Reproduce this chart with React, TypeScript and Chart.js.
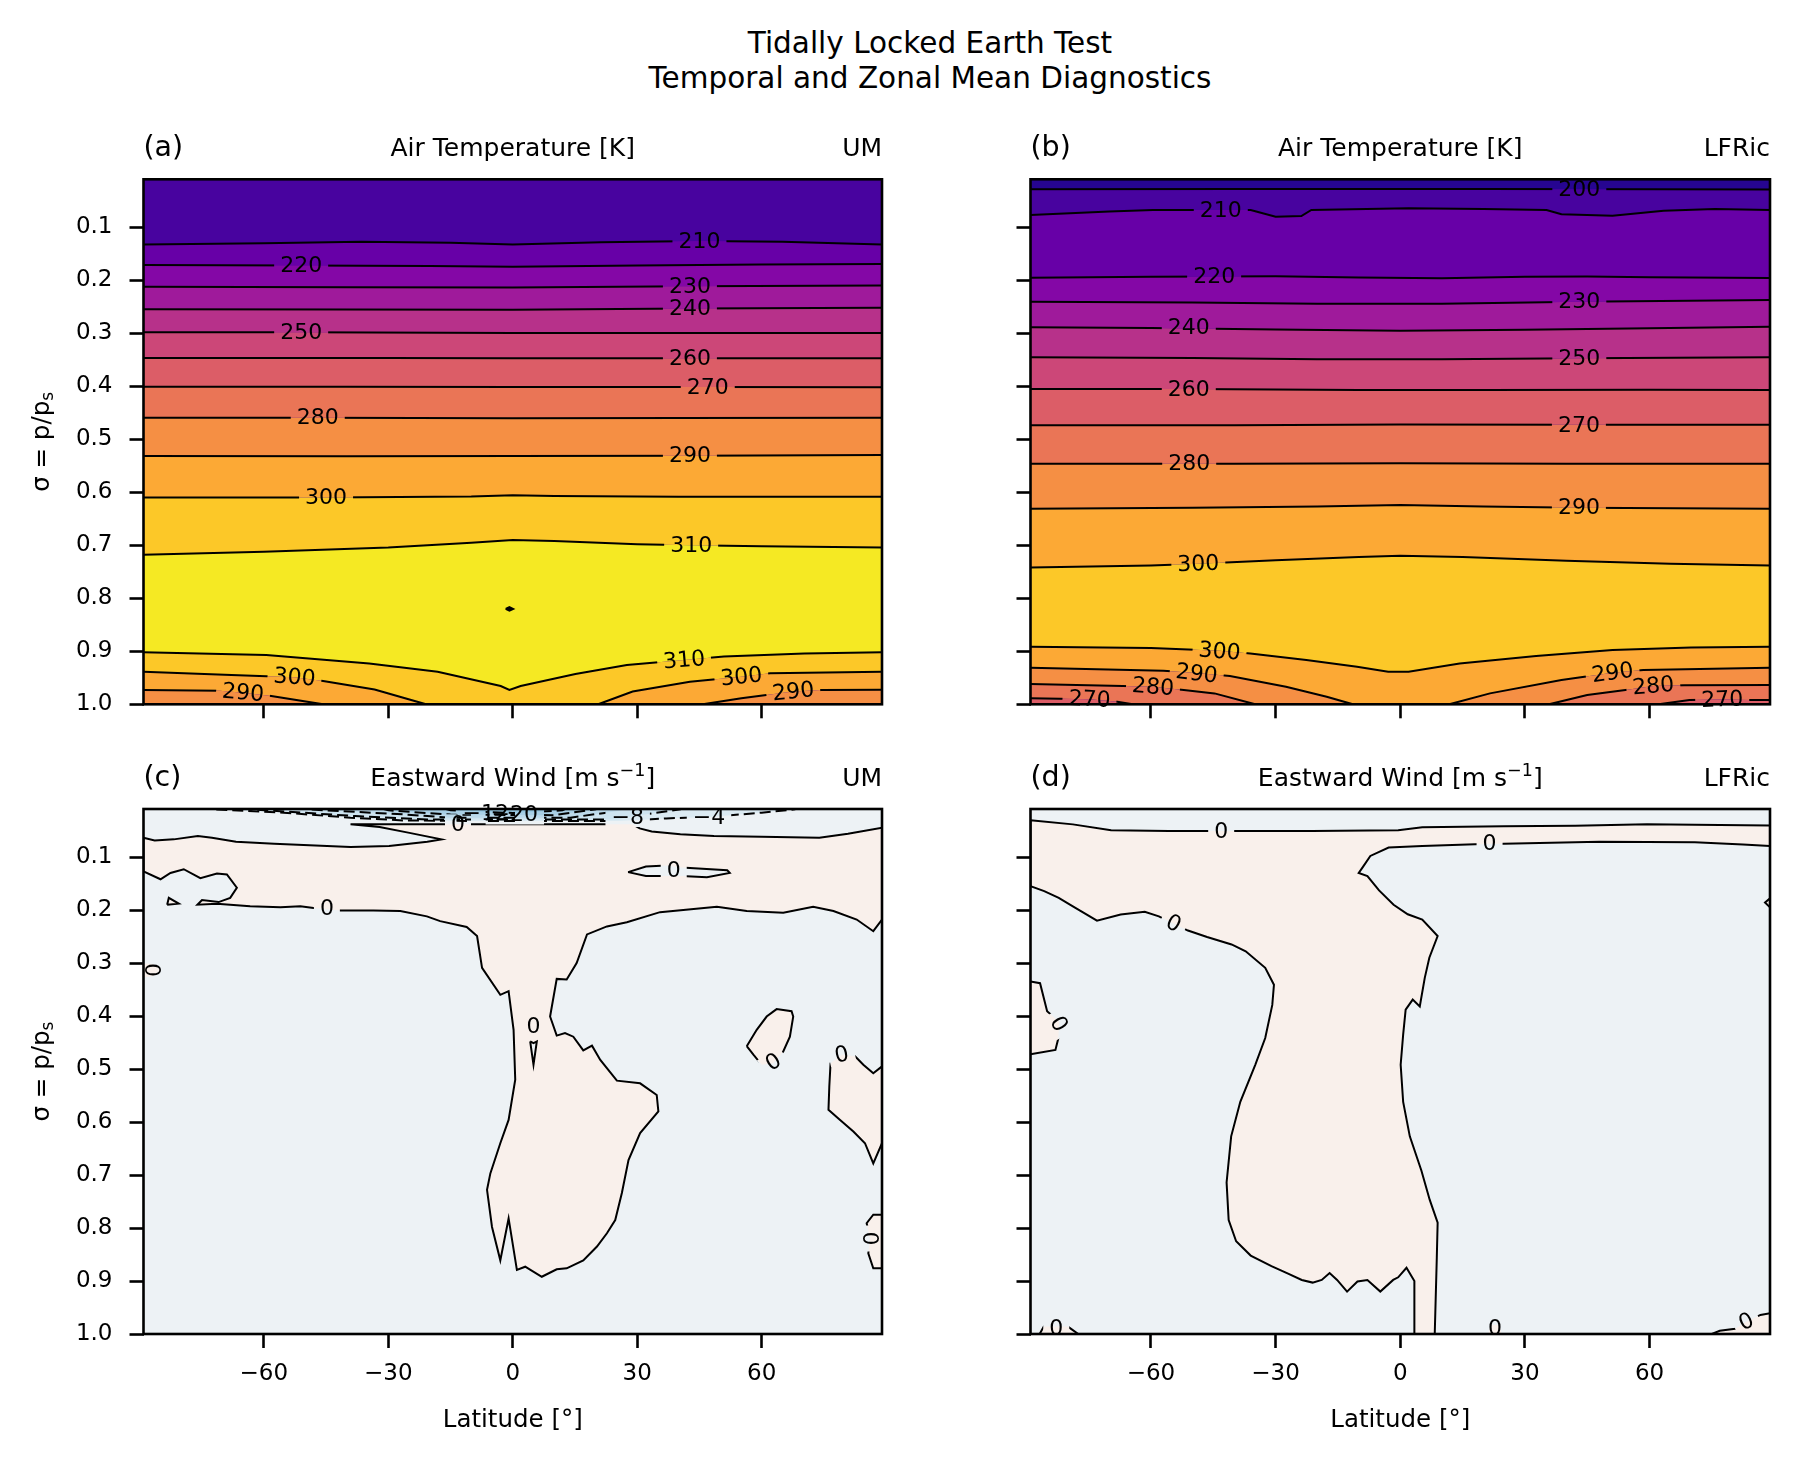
import React, { useEffect, useRef } from 'react';
import { Chart, registerables } from 'chart.js';

Chart.register(...registerables);

type P = [number, number];
type Lab = [string, number, number, number]; // text, latitude, sigma, rotation (deg)

const FAM = '"DejaVu Sans", "Liberation Sans", sans-serif';

// ---------- axes ----------
const LAT_MIN = -89;
const LAT_MAX = 89;
const SIGMA_TOP = 0.0094;
const SIGMA_BOTTOM = 1.0;
const LAT_TICKS = [-60, -30, 0, 30, 60];
const SIGMA_TICKS = [0.1, 0.2, 0.3, 0.4, 0.5, 0.6, 0.7, 0.8, 0.9, 1.0];

// ---------- colour levels ----------
const TEMP_LEVELS = [190, 200, 210, 220, 230, 240, 250, 260, 270, 280, 290, 300, 310];
const TEMP_COLORS = ['#260591', '#48039f', '#6700a7', '#8407a6', '#9f1a9b', '#b7318a', '#cc4778', '#dc5d67', '#ea7556', '#f58f44', '#fca935', '#fcc828', '#f5e923'];
const WIND_LEVELS = [-24, -20, -16, -12, -8, -4, 0];
const WIND_COLORS = ['#96c6e0', '#a9cfe5', '#bcd9ea', '#cde3ef', '#dbeaf2', '#edf2f5', '#f9f0eb'];

// ---------- (a) UM air temperature contours, top to bottom ----------
const UM_T210: P[] = [[-89, 0.1325], [-60, 0.130], [-36.5, 0.127], [-15, 0.129], [0, 0.1325], [21.3, 0.128], [45, 0.126], [65, 0.127], [89, 0.1325]];
const UM_T220: P[] = [[-89, 0.171], [-51, 0.172], [-20, 0.173], [0, 0.1745], [30, 0.172], [60, 0.170], [89, 0.169]];
const UM_T230: P[] = [[-89, 0.212], [-40, 0.213], [0, 0.2135], [42.7, 0.211], [89, 0.21]];
const UM_T240: P[] = [[-89, 0.2547], [-40, 0.255], [0, 0.2555], [42.7, 0.253], [89, 0.252]];
const UM_T250: P[] = [[-89, 0.298], [-51, 0.298], [0, 0.2995], [40, 0.2996], [89, 0.2996]];
const UM_T260: P[] = [[-89, 0.3465], [-30, 0.3465], [0, 0.347], [42.7, 0.347], [89, 0.347]];
const UM_T270: P[] = [[-89, 0.4008], [-40, 0.401], [0, 0.4015], [47, 0.4015], [89, 0.402]];
const UM_T280: P[] = [[-89, 0.4593], [-47, 0.4593], [0, 0.4605], [40, 0.46], [89, 0.4595]];
const UM_T290: P[] = [[-89, 0.5317], [-40, 0.532], [0, 0.5317], [42.7, 0.531], [89, 0.5295]];
const UM_T300: P[] = [[-89, 0.6098], [-45, 0.6098], [-10, 0.608], [0, 0.6055], [10, 0.607], [40, 0.6085], [89, 0.6085]];
const UM_T310U: P[] = [[-89, 0.718], [-60, 0.712], [-30, 0.704], [-10, 0.695], [0, 0.69], [10, 0.692], [30, 0.698], [43, 0.7], [60, 0.702], [89, 0.704]];
const UM_T310L: P[] = [[-89, 0.902], [-59.4, 0.907], [-34.6, 0.923], [-18.1, 0.9386], [-2.9, 0.9655], [-0.8, 0.973], [1.9, 0.9655], [15.1, 0.943], [27.5, 0.926], [41.3, 0.9165], [50.9, 0.91], [70.3, 0.904], [89, 0.902]];
const UM_T300L: P[] = [[-89, 0.9386], [-67.8, 0.9448], [-52.6, 0.949], [-45.7, 0.956], [-33.3, 0.972], [-20.9, 1.0], [20.6, 1.0], [28.9, 0.976], [42.7, 0.9575], [55.1, 0.948], [62, 0.9416], [89, 0.9386]];
const UM_T290L: P[] = [[-89, 0.973], [-70.6, 0.9745], [-65, 0.978], [-58.2, 0.9845], [-45.7, 1.0], [45.8, 1.0], [55.1, 0.9888], [67.6, 0.976], [74.5, 0.973], [89, 0.9725]];
const UM_T_DOT: P[] = [[-1.7, 0.82], [-0.8, 0.8165], [0.1, 0.82], [-0.8, 0.8235], [-1.7, 0.82]];
const UM_T_LINES = [UM_T210, UM_T220, UM_T230, UM_T240, UM_T250, UM_T260, UM_T270, UM_T280, UM_T290, UM_T300, UM_T310U, UM_T310L, UM_T300L, UM_T290L];
const UM_T_BELOW = [210, 220, 230, 240, 250, 260, 270, 280, 290, 300, 310, 300, 290, 280];
const UM_T_TOP = 200;
const UM_T_LABELS: Lab[] = [
  ['210', 45, 0.127, 0], ['220', -51, 0.172, 0], ['230', 42.7, 0.211, 0], ['240', 42.7, 0.253, 0],
  ['250', -51, 0.298, 0], ['260', 42.7, 0.347, 0], ['270', 47, 0.4015, 0], ['280', -47, 0.4593, 0],
  ['290', 42.7, 0.531, 0], ['300', -45, 0.6098, 0], ['310', 43, 0.7, 0],
  ['310', 41.3, 0.9165, -5], ['300', -52.6, 0.949, 5], ['300', 55.1, 0.948, -6], ['290', -65, 0.978, 5], ['290', 67.6, 0.976, -6],
];

// ---------- (b) LFRic air temperature contours ----------
const LF_T200: P[] = [[-89, 0.028], [-40, 0.0275], [20, 0.0277], [60, 0.028], [89, 0.0285]];
const LF_T210: P[] = [[-89, 0.0768], [-70, 0.07], [-59.5, 0.0673], [-43.2, 0.0673], [-36, 0.0673], [-30, 0.08], [-23.8, 0.0787], [-21.4, 0.0673], [2, 0.0642], [20, 0.0655], [35.2, 0.0673], [38.8, 0.0755], [51.1, 0.078], [63.4, 0.0686], [75.7, 0.0654], [89, 0.0673]];
const LF_T220: P[] = [[-89, 0.195], [-60, 0.1935], [-44.8, 0.193], [-30, 0.1925], [-10, 0.1945], [10, 0.196], [30, 0.1935], [45, 0.193], [60, 0.194], [89, 0.1955]];
const LF_T230: P[] = [[-89, 0.2404], [-50, 0.242], [-20, 0.2443], [10, 0.2443], [43.1, 0.2405], [89, 0.2372]];
const LF_T240: P[] = [[-89, 0.2887], [-60, 0.29], [-30, 0.293], [0, 0.295], [30, 0.2935], [60, 0.2905], [89, 0.2875]];
const LF_T250: P[] = [[-89, 0.3453], [-50, 0.3465], [-20, 0.349], [10, 0.349], [43.1, 0.347], [89, 0.3453]];
const LF_T260: P[] = [[-89, 0.405], [-50.9, 0.405], [-10, 0.4068], [20, 0.407], [60, 0.4065], [89, 0.407]];
const LF_T270: P[] = [[-89, 0.4735], [-40, 0.4735], [0, 0.472], [43, 0.4727], [89, 0.4727]];
const LF_T280: P[] = [[-89, 0.5463], [-40, 0.546], [0, 0.545], [40, 0.546], [89, 0.5463]];
const LF_T290: P[] = [[-89, 0.6308], [-50, 0.629], [-20, 0.627], [0, 0.624], [20, 0.627], [43, 0.629], [89, 0.6308]];
const LF_T300U: P[] = [[-89, 0.742], [-60, 0.738], [-48.6, 0.735], [-30, 0.728], [-10, 0.722], [0, 0.7195], [15, 0.722], [40, 0.729], [65, 0.735], [89, 0.738]];
const LF_T300L: P[] = [[-89, 0.8914], [-60, 0.894], [-43.5, 0.899], [-36.1, 0.904], [-22.6, 0.9165], [-10.4, 0.929], [-2.9, 0.9386], [2, 0.9386], [14.3, 0.923], [32.7, 0.909], [51.1, 0.8977], [70, 0.893], [89, 0.8914]];
const LF_T290L: P[] = [[-89, 0.931], [-57, 0.9367], [-49, 0.941], [-41, 0.9467], [-27.5, 0.9668], [-17.7, 0.9857], [-11.4, 1.0], [11.8, 1.0], [21.6, 0.9794], [38.8, 0.954], [51.1, 0.9405], [58.5, 0.9354], [89, 0.931]];
const LF_T280L: P[] = [[-89, 0.9618], [-66.8, 0.9655], [-59.5, 0.967], [-52.1, 0.973], [-44.7, 0.9794], [-34.9, 1.0], [35.8, 1.0], [45, 0.9826], [54.2, 0.973], [60.9, 0.9655], [68.3, 0.964], [89, 0.9637]];
const LF_T270L: P[] = [[-89, 0.9888], [-74.8, 0.9905], [-68.1, 0.9952], [-64.4, 1.0], [62.2, 1.0], [69.6, 0.992], [77.5, 0.991], [84.3, 0.992], [89, 0.992]];
const LF_T_LINES = [LF_T200, LF_T210, LF_T220, LF_T230, LF_T240, LF_T250, LF_T260, LF_T270, LF_T280, LF_T290, LF_T300U, LF_T300L, LF_T290L, LF_T280L, LF_T270L];
const LF_T_BELOW = [200, 210, 220, 230, 240, 250, 260, 270, 280, 290, 300, 290, 280, 270, 260];
const LF_T_TOP = 190;
const LF_T_LABELS: Lab[] = [
  ['200', 43.1, 0.0277, 0], ['210', -43.2, 0.0673, 0], ['220', -44.8, 0.193, 0], ['230', 43.1, 0.2405, 0],
  ['240', -50.9, 0.2895, 0], ['250', 43.1, 0.347, 0], ['260', -50.9, 0.405, 0], ['270', 43, 0.4727, 0],
  ['280', -50.8, 0.546, 0], ['290', 43, 0.629, 0], ['300', -48.6, 0.735, -2],
  ['300', -43.5, 0.9, 5], ['290', -49, 0.942, 7], ['280', -59.5, 0.967, 5], ['270', -74.8, 0.9905, 3],
  ['290', 51.1, 0.9405, -8], ['280', 60.9, 0.9655, -5], ['270', 77.5, 0.991, -2],
];

// ---------- (c) UM eastward wind: closed contour shapes ----------
const UM_W_POS: P[] = [
  [-89, 0.0635], [-86.3, 0.0686], [-81.7, 0.0667], [-75.9, 0.0605], [-72.5, 0.0635], [-66.7, 0.071], [-57.5, 0.0749], [-39.1, 0.0813], [-29.8, 0.0794], [-20.6, 0.071], [-17.2, 0.0667],
  [-25.2, 0.054], [-32.1, 0.0435], [-39.1, 0.0384], [28.9, 0.0384], [30.6, 0.046], [33.5, 0.052], [40.4, 0.057], [48.5, 0.0605], [60.0, 0.0616], [73.9, 0.0635], [80.8, 0.056], [89, 0.0446],
  [89, 0.218], [86.9, 0.24], [82.9, 0.218], [77.3, 0.202], [72.4, 0.194], [65.2, 0.205], [56.4, 0.202], [49.2, 0.194], [35.5, 0.204], [27.5, 0.223], [22.7, 0.231], [17.9, 0.246],
  [15.4, 0.3], [13.0, 0.331], [10.6, 0.33], [9.0, 0.401], [10.6, 0.437], [12.6, 0.432], [14.6, 0.439], [17.0, 0.465], [19.1, 0.456], [21.1, 0.483], [25.1, 0.522], [30.7, 0.527],
  [34.7, 0.549], [35.1, 0.58], [30.7, 0.621], [27.9, 0.672], [26.3, 0.734], [24.7, 0.785], [22.7, 0.81], [20.3, 0.835], [17.0, 0.861], [13.0, 0.876], [10.6, 0.878], [7.0, 0.892],
  [3.0, 0.873], [1.0, 0.879], [-1.0, 0.782], [-3.0, 0.861], [-5.0, 0.798], [-6.2, 0.728], [-5.4, 0.697], [-3.0, 0.64], [-1.0, 0.596], [0.6, 0.52], [0.2, 0.426], [-1.0, 0.353],
  [-3.0, 0.36], [-7.4, 0.309], [-8.6, 0.249], [-11.1, 0.232], [-17.5, 0.221], [-20.7, 0.212], [-27.1, 0.202], [-33.6, 0.201], [-41.6, 0.201], [-48.0, 0.196], [-51.2, 0.193],
  [-56.0, 0.195], [-63.3, 0.193], [-71.3, 0.188], [-76.0, 0.19], [-74.9, 0.181], [-70.9, 0.185], [-68.1, 0.177], [-66.5, 0.158], [-68.9, 0.133], [-71.3, 0.131], [-75.3, 0.14],
  [-79.3, 0.123], [-82.5, 0.13], [-84.9, 0.142], [-89, 0.127], [-89, 0.0635],
];
const UM_W_NEG_BLOB: P[] = [[27.8, 0.1285], [32.1, 0.118], [37.0, 0.116], [40.7, 0.12], [51.7, 0.125], [52.3, 0.13], [46.8, 0.138], [40.7, 0.136], [32.1, 0.136], [27.8, 0.1285]];
const UM_W_NEG_V: P[] = [[4.2, 0.448], [5.0, 0.492], [5.8, 0.448], [5.0, 0.451], [4.2, 0.448]];
const UM_W_POS_TRI: P[] = [[-83.3, 0.19], [-82.9, 0.177], [-80.5, 0.188], [-83.3, 0.19]];
const UM_W_POS_EDGE_L: P[] = [[-89, 0.301], [-86.6, 0.302], [-85.0, 0.313], [-86.6, 0.325], [-89, 0.327]];
const UM_W_POS_BLOB: P[] = [[56.4, 0.457], [58.8, 0.426], [61.2, 0.401], [63.6, 0.387], [67.2, 0.391], [67.6, 0.401], [66.8, 0.439], [65.2, 0.467], [62.8, 0.489], [60.0, 0.492], [58.0, 0.473], [56.4, 0.457]];
const UM_W_POS_EDGE_R: P[] = [[89, 0.495], [86.9, 0.508], [84.5, 0.492], [82.5, 0.476], [79.3, 0.473], [76.6, 0.489], [76.3, 0.533], [76.1, 0.577], [78.9, 0.596], [82.1, 0.618], [84.9, 0.64], [86.9, 0.678], [89, 0.64]];
const UM_W_POS_EDGE_R2: P[] = [[89, 0.775], [86.9, 0.775], [85.3, 0.791], [86.1, 0.82], [85.7, 0.848], [86.9, 0.876], [89, 0.876]];
const UM_W_N4: P[] = [[-75, 0], [-72.5, 0.0101], [-55.2, 0.0163], [-39.1, 0.0258], [-26.5, 0.0309], [-9.2, 0.0321], [25.4, 0.0321], [37.0, 0.0271], [47.3, 0.0246], [60.0, 0.0163], [68.0, 0.0101], [70, 0]];
const UM_W_N8: P[] = [[-65, 0], [-63.3, 0.0101], [-38.0, 0.0227], [-20.7, 0.029], [25.4, 0.029], [27.7, 0.0246], [34.6, 0.0163], [40.4, 0.0101], [42, 0]];
const UM_W_N12: P[] = [[-52, 0], [-49.5, 0.0101], [-26.5, 0.0195], [-14.9, 0.0258], [13.9, 0.0258], [25.4, 0.0132], [27.7, 0.0082], [28, 0]];
const UM_W_N16: P[] = [[-35, 0], [-30, 0.012], [-15, 0.02], [10, 0.021], [20, 0.01], [22, 0]];
const UM_W_N20: P[] = [[-20, 0], [-15, 0.012], [0, 0.017], [12, 0.012], [15, 0]];
const UM_W_SHAPES = [UM_W_POS, UM_W_NEG_BLOB, UM_W_NEG_V, UM_W_POS_TRI, UM_W_POS_EDGE_L, UM_W_POS_BLOB, UM_W_POS_EDGE_R, UM_W_POS_EDGE_R2, UM_W_N4, UM_W_N8, UM_W_N12, UM_W_N16, UM_W_N20];
const UM_W_INSIDE = [0, -4, -4, 0, 0, 0, 0, 0, -8, -12, -16, -20, -24];
const UM_W_CONTOUR = [0, 0, 0, 0, 0, 0, 0, 0, -4, -8, -12, -16, -20];
const UM_W_LABELS: Lab[] = [
  ['0', -44.8, 0.197, 0], ['0', -13.2, 0.0384, 0], ['0', 38.8, 0.125, 0], ['0', 5.0, 0.42, 0],
  ['0', 62.8, 0.487, -32], ['0', 79.3, 0.473, -12], ['0', 86.1, 0.82, 90], ['0', -86.9, 0.313, 90],
  ['\u22124', 47.3, 0.0246, 0], ['\u22128', 27.7, 0.0246, 0], ['\u221212', -6.5, 0.017, 0], ['\u221220', 0.5, 0.02, 0],
];

// ---------- (d) LFRic eastward wind ----------
const LF_W_POS: P[] = [
  [-89, 0.0308], [-78.8, 0.0384], [-69.6, 0.0497], [-55.7, 0.051], [-39.6, 0.051], [-21.2, 0.051], [-0.5, 0.0497], [5.3, 0.044], [24.9, 0.042], [42.1, 0.041], [59.4, 0.0384], [70.9, 0.039], [89, 0.0403],
  [89, 0.0794], [82.5, 0.0762], [70.9, 0.072], [47.9, 0.071], [24.9, 0.075], [18.0, 0.076], [5.3, 0.079], [-2.8, 0.082], [-7.2, 0.098], [-9.1, 0.12], [-10.0, 0.13],
  [-7.9, 0.136], [-5.1, 0.163], [-1.6, 0.19], [1.8, 0.208], [5.3, 0.218], [9.0, 0.249], [7.0, 0.29], [5.9, 0.328], [4.7, 0.382], [3.0, 0.369], [1.3, 0.388], [0.7, 0.435], [0.1, 0.492],
  [0.7, 0.562], [2.3, 0.627], [5.1, 0.692], [7.1, 0.747], [9.0, 0.79], [8.8, 0.855], [8.3, 1.0],
  [3.4, 1.0], [3.4, 0.9], [1.5, 0.875], [-0.5, 0.893], [-1.7, 0.898], [-4.8, 0.92], [-7.9, 0.898], [-10.3, 0.901], [-12.8, 0.92], [-15.2, 0.898], [-17.0, 0.885], [-18.9, 0.898],
  [-21.1, 0.903], [-23.7, 0.898], [-27.0, 0.886], [-31.0, 0.872], [-36.0, 0.852], [-39.5, 0.825], [-41.3, 0.785], [-41.8, 0.714], [-40.7, 0.627], [-38.5, 0.562], [-34.9, 0.492],
  [-32.5, 0.4415], [-30.8, 0.379], [-30.4, 0.341], [-32.5, 0.309], [-37.2, 0.278], [-40.6, 0.265], [-46.5, 0.251], [-51.1, 0.2387], [-58.1, 0.212], [-61.5, 0.2034], [-67.3, 0.2085],
  [-73.0, 0.22], [-78.8, 0.193], [-82.2, 0.177], [-85.7, 0.1644], [-89, 0.155], [-89, 0.0308],
];
const LF_W_POS_EDGE_L: P[] = [[-89, 0.335], [-86.7, 0.338], [-85.0, 0.391], [-82.1, 0.411], [-82.3, 0.442], [-83.0, 0.464], [-89, 0.472]];
const LF_W_POS_CORNER: P[] = [[75, 1.0], [76.9, 0.994], [80.6, 0.99], [83.3, 0.977], [86.7, 0.964], [89, 0.961], [89, 1.0]];
const LF_W_POS_BL: P[] = [[-86.8, 1.0], [-85.8, 0.986], [-80, 0.986], [-77.5, 1.0]];
const LF_W_POS_BC: P[] = [[21.2, 1.0], [21.8, 0.983], [23.8, 0.983], [24.4, 1.0]];
const LF_W_POS_R: P[] = [[89, 0.178], [87.8, 0.186], [89, 0.195]];
const LF_W_SHAPES = [LF_W_POS, LF_W_POS_EDGE_L, LF_W_POS_CORNER, LF_W_POS_BL, LF_W_POS_BC, LF_W_POS_R];
const LF_W_INSIDE = [0, 0, 0, 0, 0, 0];
const LF_W_CONTOUR = [0, 0, 0, 0, 0, 0];
const LF_W_LABELS: Lab[] = [
  ['0', -43.1, 0.051, 0], ['0', 21.5, 0.075, 0], ['0', -54.6, 0.2255, 27], ['0', -82.2, 0.415, 60],
  ['0', 83.3, 0.977, -25], ['0', -82.8, 0.99, 0], ['0', 22.8, 0.99, 0],
];

// ---------- text ----------
type Seg = { t: string; sup?: boolean; sub?: boolean };
const TEMP_TITLE: Seg[] = [{ t: 'Air Temperature [K]' }];
const WIND_TITLE: Seg[] = [{ t: 'Eastward Wind [m s' }, { t: '\u22121', sup: true }, { t: ']' }];
const Y_LABEL: Seg[] = [{ t: '\u03c3 = p/p' }, { t: 's', sub: true }];
const X_LABEL: Seg[] = [{ t: 'Latitude [\u00b0]' }];

const tempColor = (lvl: number) => TEMP_COLORS[TEMP_LEVELS.indexOf(lvl)];
const windColor = (lvl: number) => WIND_COLORS[WIND_LEVELS.indexOf(lvl)];
const toXY = (pts: P[]) => pts.map(([x, y]) => ({ x, y }));

function bandDatasets(lines: P[][], below: number[]) {
  const n = lines.length;
  return lines.map((pts, i) => ({
    data: toXY(pts),
    backgroundColor: tempColor(below[i]),
    borderColor: '#000',
    borderWidth: 2,
    pointRadius: 0,
    tension: 0,
    fill: i < n - 1 ? '+1' : { value: SIGMA_BOTTOM },
  }));
}

function shapeDatasets(shapes: P[][], colors: string[], dashed: boolean[]) {
  return shapes.map((pts, i) => ({
    data: toXY(pts),
    backgroundColor: colors[i],
    borderColor: '#000',
    borderWidth: 2,
    borderDash: dashed[i] ? [11, 5] : [],
    pointRadius: 0,
    tension: 0,
    fill: 'shape',
  }));
}

function drawSegs(ctx: CanvasRenderingContext2D, segs: Seg[], x: number, y: number, align: string, size: number) {
  const sz = (s: Seg) => (s.sup || s.sub ? size * 0.7 : size);
  let w = 0;
  for (const s of segs) {
    ctx.font = `${sz(s)}px ${FAM}`;
    w += ctx.measureText(s.t).width;
  }
  let cx = align === 'center' ? x - w / 2 : align === 'right' ? x - w : x;
  ctx.textAlign = 'left';
  ctx.textBaseline = 'alphabetic';
  for (const s of segs) {
    ctx.font = `${sz(s)}px ${FAM}`;
    const dy = s.sup ? -size * 0.42 : s.sub ? size * 0.2 : 0;
    ctx.fillText(s.t, cx, y + dy);
    cx += ctx.measureText(s.t).width;
  }
}

interface Spec {
  datasets: any[];
  labels: Lab[];
  bg: string;
  tag: string;
  title: Seg[];
  model: string;
  showX: boolean;
  showY: boolean;
  yAxisW: number;
  padRight: number;
  padTop: number;
  xAxisH: number;
}

const LABEL_SIZE = 22;

function decoPlugin(spec: Spec) {
  const labelPix = (chart: any) => {
    const xs = chart.scales.x;
    const ys = chart.scales.y;
    return spec.labels.map(([t, lat, sig, rot]) => ({
      t,
      px: xs.getPixelForValue(lat),
      py: ys.getPixelForValue(sig),
      r: (rot * Math.PI) / 180,
    }));
  };
  return {
    id: 'contourDeco',
    beforeDraw(chart: any) {
      const { ctx, chartArea: a } = chart;
      ctx.save();
      ctx.fillStyle = spec.bg;
      ctx.fillRect(a.left, a.top, a.right - a.left, a.bottom - a.top);
      ctx.restore();
    },
    beforeDatasetDraw(chart: any) {
      const ctx = chart.ctx;
      ctx.save();
      ctx.font = `${LABEL_SIZE}px ${FAM}`;
      ctx.beginPath();
      ctx.rect(0, 0, chart.width, chart.height);
      for (const l of labelPix(chart)) {
        const hw = ctx.measureText(l.t).width / 2 + 6;
        const hh = 10;
        const c = Math.cos(l.r);
        const s = Math.sin(l.r);
        const pts = [[-hw, -hh], [hw, -hh], [hw, hh], [-hw, hh]].map(([u, v]) => [l.px + u * c - v * s, l.py + u * s + v * c]);
        ctx.moveTo(pts[0][0], pts[0][1]);
        for (let i = 1; i < 4; i++) ctx.lineTo(pts[i][0], pts[i][1]);
        ctx.closePath();
      }
      ctx.clip('evenodd');
    },
    afterDatasetDraw(chart: any) {
      chart.ctx.restore();
    },
    afterDatasetsDraw(chart: any) {
      const { ctx, chartArea: a } = chart;
      ctx.save();
      ctx.strokeStyle = '#000';
      ctx.lineWidth = 2.6;
      ctx.strokeRect(a.left, a.top, a.right - a.left, a.bottom - a.top);
      ctx.fillStyle = '#000';
      ctx.font = `${LABEL_SIZE}px ${FAM}`;
      ctx.textAlign = 'center';
      ctx.textBaseline = 'middle';
      for (const l of labelPix(chart)) {
        ctx.save();
        ctx.translate(l.px, l.py);
        ctx.rotate(l.r);
        ctx.fillText(l.t, 0, 1);
        ctx.restore();
      }
      ctx.restore();
    },
    afterDraw(chart: any) {
      const { ctx, chartArea: a } = chart;
      ctx.save();
      ctx.fillStyle = '#000';
      const base = a.top - 23;
      ctx.textBaseline = 'alphabetic';
      ctx.font = `28.5px ${FAM}`;
      ctx.textAlign = 'left';
      ctx.fillText(spec.tag, a.left, base);
      drawSegs(ctx, spec.title, (a.left + a.right) / 2, base, 'center', 25);
      ctx.font = `25px ${FAM}`;
      ctx.textAlign = 'right';
      ctx.fillText(spec.model, a.right, base);
      if (spec.showY) {
        ctx.save();
        ctx.translate(48.5, (a.top + a.bottom) / 2);
        ctx.rotate(-Math.PI / 2);
        drawSegs(ctx, Y_LABEL, 0, 0, 'center', 24.5);
        ctx.restore();
      }
      if (spec.showX) {
        drawSegs(ctx, X_LABEL, (a.left + a.right) / 2, a.bottom + 93, 'center', 24.5);
      }
      ctx.restore();
    },
  };
}

function buildConfig(spec: Spec) {
  const n = spec.datasets.length;
  const datasets = spec.datasets.map((d, i) => ({ ...d, order: n - i }));
  const tickFont = { family: FAM, size: 23 };
  const gridOpts = { display: true, drawOnChartArea: false, drawTicks: true, tickLength: 14, tickWidth: 2.6, tickColor: '#000', color: '#000' };
  return {
    type: 'line',
    data: { datasets },
    options: {
      animation: false,
      responsive: false,
      maintainAspectRatio: false,
      devicePixelRatio: 1,
      events: [],
      layout: { padding: { left: 0, right: spec.padRight, top: spec.padTop, bottom: 0 }, autoPadding: false },
      plugins: { legend: { display: false }, tooltip: { enabled: false }, title: { display: false } },
      elements: { point: { radius: 0 }, line: { tension: 0 } },
      scales: {
        x: {
          type: 'linear',
          min: LAT_MIN,
          max: LAT_MAX,
          afterBuildTicks: (s: any) => { s.ticks = LAT_TICKS.map((v) => ({ value: v })); },
          afterFit: (s: any) => { s.height = spec.xAxisH; },
          ticks: {
            autoSkip: false,
            maxRotation: 0,
            minRotation: 0,
            padding: 12,
            font: tickFont,
            color: spec.showX ? '#000' : 'rgba(0,0,0,0)',
            callback: (v: any) => (Number(v) < 0 ? '\u2212' + Math.abs(Number(v)) : String(v)),
          },
          grid: gridOpts,
          border: { display: false },
        },
        y: {
          type: 'linear',
          reverse: true,
          min: SIGMA_TOP,
          max: SIGMA_BOTTOM,
          afterBuildTicks: (s: any) => { s.ticks = SIGMA_TICKS.map((v) => ({ value: v })); },
          afterFit: (s: any) => { s.width = spec.yAxisW; },
          ticks: {
            autoSkip: false,
            padding: 17,
            font: tickFont,
            color: spec.showY ? '#000' : 'rgba(0,0,0,0)',
            callback: (v: any) => Number(v).toFixed(1),
          },
          grid: gridOpts,
          border: { display: false },
        },
      },
    },
    plugins: [decoPlugin(spec)],
  };
}

function Panel({ spec, left, top, width, height }: { spec: Spec; left: number; top: number; width: number; height: number }) {
  const ref = useRef<HTMLCanvasElement>(null);
  useEffect(() => {
    const canvas = ref.current;
    if (!canvas) return;
    const chart = new Chart(canvas, buildConfig(spec) as any);
    return () => chart.destroy();
  }, []);
  return <canvas ref={ref} width={width} height={height} style={{ position: 'absolute', left, top, width, height, display: 'block' }} />;
}

const umTempSpec: Spec = {
  datasets: [...bandDatasets(UM_T_LINES, UM_T_BELOW), ...shapeDatasets([UM_T_DOT], ['#000'], [false])],
  labels: UM_T_LABELS,
  bg: tempColor(UM_T_TOP),
  tag: '(a)', title: TEMP_TITLE, model: 'UM',
  showX: false, showY: true,
  yAxisW: 143.5, padRight: 18, padTop: 69.3, xAxisH: 45.7,
};
const lfTempSpec: Spec = {
  datasets: bandDatasets(LF_T_LINES, LF_T_BELOW),
  labels: LF_T_LABELS,
  bg: tempColor(LF_T_TOP),
  tag: '(b)', title: TEMP_TITLE, model: 'LFRic',
  showX: false, showY: false,
  yAxisW: 130.5, padRight: 30, padTop: 69.3, xAxisH: 45.7,
};
const umWindSpec: Spec = {
  datasets: shapeDatasets(UM_W_SHAPES, UM_W_INSIDE.map(windColor), UM_W_CONTOUR.map((c) => c < 0)),
  labels: UM_W_LABELS,
  bg: windColor(-4),
  tag: '(c)', title: WIND_TITLE, model: 'UM',
  showX: true, showY: true,
  yAxisW: 143.5, padRight: 18, padTop: 69, xAxisH: 127,
};
const lfWindSpec: Spec = {
  datasets: shapeDatasets(LF_W_SHAPES, LF_W_INSIDE.map(windColor), LF_W_CONTOUR.map((c) => c < 0)),
  labels: LF_W_LABELS,
  bg: windColor(-4),
  tag: '(d)', title: WIND_TITLE, model: 'LFRic',
  showX: true, showY: false,
  yAxisW: 130.5, padRight: 30, padTop: 69, xAxisH: 127,
};

export default function App() {
  return (
    <div style={{ position: 'absolute', left: 0, top: 0, width: 1800, height: 1461, background: '#fff', overflow: 'hidden', fontFamily: FAM }}>
      <div style={{ position: 'absolute', left: 930, top: 26, transform: 'translateX(-50%)', whiteSpace: 'nowrap', textAlign: 'center', fontSize: 29.5, lineHeight: '34.5px', color: '#000' }}>
        Tidally Locked Earth Test<br />Temporal and Zonal Mean Diagnostics
      </div>
      <Panel spec={umTempSpec} left={0} top={110} width={900} height={640} />
      <Panel spec={lfTempSpec} left={900} top={110} width={900} height={640} />
      <Panel spec={umWindSpec} left={0} top={740} width={900} height={721} />
      <Panel spec={lfWindSpec} left={900} top={740} width={900} height={721} />
    </div>
  );
}
